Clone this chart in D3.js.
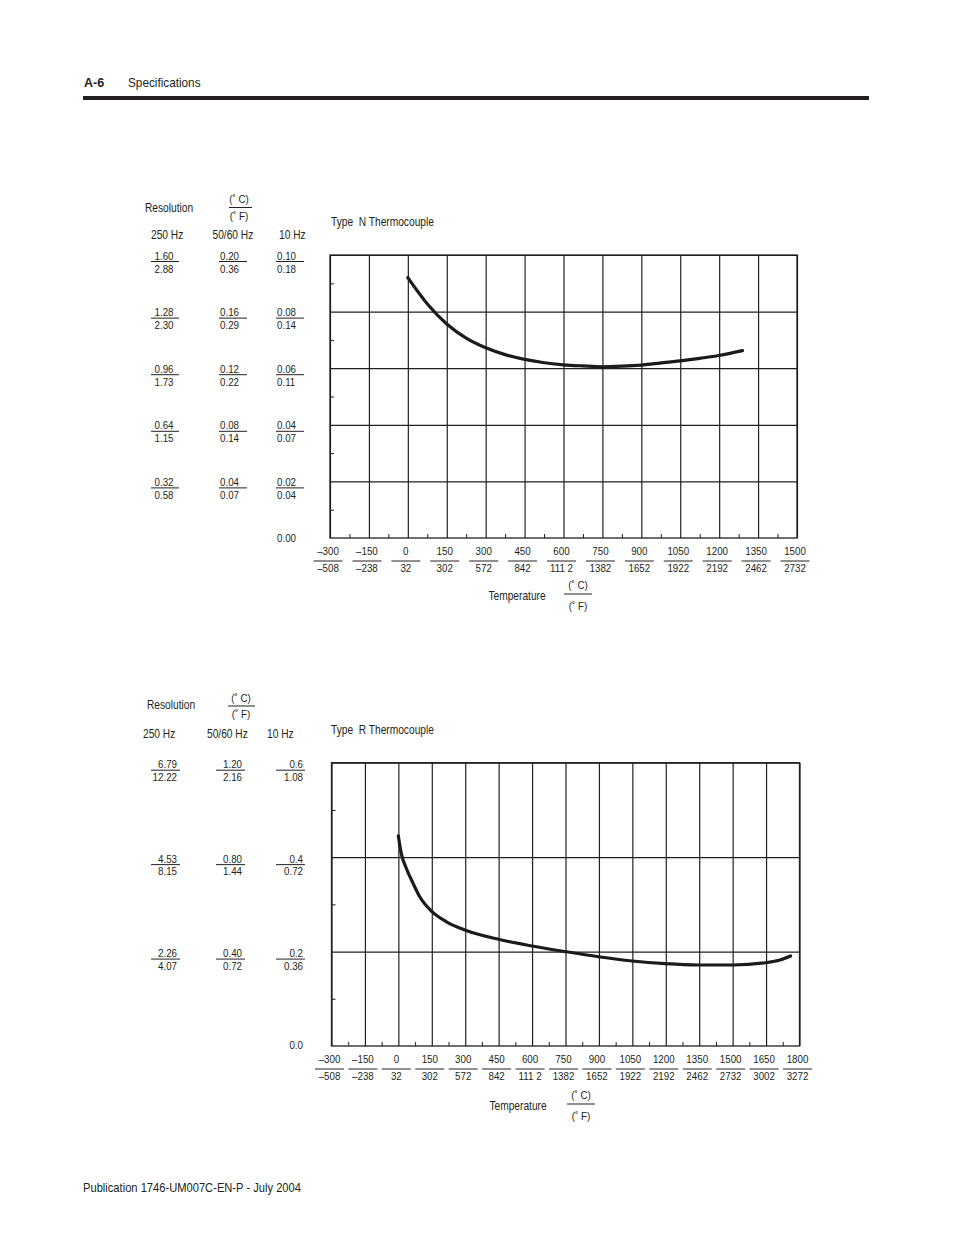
<!DOCTYPE html>
<html>
<head>
<meta charset="utf-8">
<script src="https://cdn.jsdelivr.net/npm/d3@7"></script>
<style>
  html, body { margin: 0; padding: 0; background: #fff; }
  svg { display: block; }
  text { font-family: "Liberation Sans", Arial, Helvetica, sans-serif; fill: #231f20; white-space: pre; }
</style>
</head>
<body>
<svg id="page" width="954" height="1235"></svg>
<script>
// ---------------- DATA ----------------
// Type N thermocouple: temperature (°C) and resolution at 10 Hz (°C)
const nTemp = [0, 77, 150, 225, 300, 375, 450, 520, 600, 674, 750, 825, 900, 972, 1050, 1125, 1200, 1290];
const nRes  = [0.0920, 0.0825, 0.0756, 0.0706, 0.0672, 0.0648, 0.0631, 0.0620, 0.0612, 0.0608, 0.0605, 0.0607, 0.0611, 0.0618, 0.0626, 0.0635, 0.0645, 0.0662];

// Type R thermocouple: temperature (°C) and resolution at 10 Hz (°C)
const rTemp = [0, 13, 36, 66, 96, 151, 216, 299, 449, 600, 748, 898, 1049, 1197, 1347, 1500, 1648, 1712, 1760];
const rRes  = [0.445, 0.408, 0.376, 0.3445, 0.316, 0.2845, 0.263, 0.2457, 0.226, 0.2118, 0.200, 0.189, 0.180, 0.1743, 0.1715, 0.1715, 0.1764, 0.182, 0.1906];

// Y-axis resolution labels, Type N (rows top to bottom)
const nGrid      = [0.10, 0.08, 0.06, 0.04, 0.02];
const n250C      = ["1.60", "1.28", "0.96", "0.64", "0.32"];
const n250F      = ["2.88", "2.30", "1.73", "1.15", "0.58"];
const n5060C     = ["0.20", "0.16", "0.12", "0.08", "0.04"];
const n5060F     = ["0.36", "0.29", "0.22", "0.14", "0.07"];
const n10C       = ["0.10", "0.08", "0.06", "0.04", "0.02"];
const n10F       = ["0.18", "0.14", "0.11", "0.07", "0.04"];
const nZeroLabel = "0.00";

// Y-axis resolution labels, Type R
const rGrid      = [0.6, 0.4, 0.2];
const r250C      = ["6.79", "4.53", "2.26"];
const r250F      = ["12.22", "8.15", "4.07"];
const r5060C     = ["1.20", "0.80", "0.40"];
const r5060F     = ["2.16", "1.44", "0.72"];
const r10C       = ["0.6", "0.4", "0.2"];
const r10F       = ["1.08", "0.72", "0.36"];
const rZeroLabel = "0.0";

// X-axis temperature labels
const nTicksC = [-300, -150, 0, 150, 300, 450, 600, 750, 900, 1050, 1200, 1350, 1500];
const nTicksF = ["\u2013508", "\u2013238", "32", "302", "572", "842", "111 2", "1382", "1652", "1922", "2192", "2462", "2732"];
const rTicksC = [-300, -150, 0, 150, 300, 450, 600, 750, 900, 1050, 1200, 1350, 1500, 1650, 1800];
const rTicksF = ["\u2013508", "\u2013238", "32", "302", "572", "842", "111 2", "1382", "1652", "1922", "2192", "2462", "2732", "3002", "3272"];

const headerNum   = "A-6";
const headerTitle = "Specifications";
const footerText  = "Publication 1746-UM007C-EN-P - July 2004";

// ---------------- DRAW ----------------
const svg = d3.select("#page");
const INK = "#231f20";
const SX = 0.85;          // condensed face
const fmtC = v => (v < 0 ? "\u2013" + Math.abs(v) : String(v));

function T(g, x, y, str, o) {
  o = Object.assign({ size: 12, anchor: "start", sx: SX, weight: "normal" }, o || {});
  return g.append("text")
    .attr("transform", `translate(${x},${y}) scale(${o.sx},1)`)
    .attr("font-size", o.size).attr("font-weight", o.weight)
    .attr("text-anchor", o.anchor).text(str);
}

// header
T(svg, 84, 86.5, headerNum, { size: 12.5, weight: "bold", sx: 1.0 });
T(svg, 128, 86.5, headerTitle, { size: 12, sx: 0.98 });
svg.append("rect").attr("x", 83).attr("y", 96).attr("width", 786).attr("height", 4).attr("fill", INK);
// footer
T(svg, 83, 1191.5, footerText, { size: 12, sx: 0.93 });

function fraction(g, yTop, top, bottom, o) {
  o = Object.assign({ size: 11.5, anchor: "middle", lineDy: 6, botDy: 17 }, o);
  T(g, o.textX, yTop, top, { size: o.size, anchor: o.anchor });
  g.append("line").attr("x1", o.lineX0).attr("x2", o.lineX1).attr("y1", yTop + o.lineDy).attr("y2", yTop + o.lineDy)
    .attr("stroke", INK).attr("stroke-width", 1);
  T(g, o.textX, yTop + o.botDy, bottom, { size: o.size, anchor: o.anchor });
}

function drawChart(cfg) {
  const g = svg.append("g");
  const x = d3.scaleLinear().domain(cfg.xDomain).range(cfg.xRange);
  const y = d3.scaleLinear().domain(cfg.yDomain).range(cfg.yRange);
  const [x0, x1] = cfg.xRange, [y0, y1] = cfg.yRange; // y0 bottom, y1 top
  const W = x1 - x0, H = y0 - y1;

  // vertical gridlines
  g.append("g").attr("transform", `translate(0,${y0})`)
    .call(d3.axisBottom(x).tickValues(cfg.ticksC).tickSize(-H).tickFormat(""))
    .call(s => s.select(".domain").remove())
    .call(s => s.selectAll("line").attr("stroke", INK).attr("stroke-width", 1.2));
  // horizontal gridlines
  g.append("g").attr("transform", `translate(${x0},0)`)
    .call(d3.axisLeft(y).tickValues(cfg.grid).tickSize(-W).tickFormat(""))
    .call(s => s.select(".domain").remove())
    .call(s => s.selectAll("line").attr("stroke", INK).attr("stroke-width", 1.2));
  // minor ticks (bottom, pointing up)
  const minorX = cfg.ticksC.slice(0, -1).map((t, i) => (t + cfg.ticksC[i + 1]) / 2);
  g.append("g").attr("transform", `translate(0,${y0})`)
    .call(d3.axisBottom(x).tickValues(minorX).tickSize(-4).tickFormat(""))
    .call(s => s.select(".domain").remove())
    .call(s => s.selectAll("line").attr("stroke", INK).attr("stroke-width", 1));
  // minor ticks (left, pointing right)
  const allG = [cfg.yDomain[0]].concat(cfg.grid.slice().reverse());
  const minorY = allG.slice(0, -1).map((v, i) => (v + allG[i + 1]) / 2);
  g.append("g").attr("transform", `translate(${x0},0)`)
    .call(d3.axisLeft(y).tickValues(minorY).tickSize(-4).tickFormat(""))
    .call(s => s.select(".domain").remove())
    .call(s => s.selectAll("line").attr("stroke", INK).attr("stroke-width", 1));
  // frame
  g.append("rect").attr("x", x0).attr("y", y1).attr("width", W).attr("height", H)
    .attr("fill", "none").attr("stroke", INK).attr("stroke-width", 1.3);

  // curve
  const line = d3.line().x(d => x(d[0])).y(d => y(d[1])).curve(d3.curveMonotoneX);
  g.append("path").datum(cfg.temp.map((t, i) => [t, cfg.res[i]]))
    .attr("d", line).attr("fill", "none").attr("stroke", "#1c1a1b").attr("stroke-width", 3.2)
    .attr("stroke-linecap", "round");

  // title
  T(g, cfg.titleX, cfg.titleY, cfg.title, { size: 12 });

  // header labels above the resolution columns
  const h = cfg.head;
  T(g, h.resX, h.resY, "Resolution", { size: 12 });
  fraction(g, h.unitY, "(\u02DA C)", "(\u02DA F)", { textX: h.unitX, lineX0: h.unitL0, lineX1: h.unitL1, lineDy: 4.5, botDy: 16.5 });
  T(g, h.c1, h.hzY, "250 Hz", { size: 12 });
  T(g, h.c2, h.hzY, "50/60 Hz", { size: 12 });
  T(g, h.c3, h.hzY, "10 Hz", { size: 12 });

  // y labels
  cfg.grid.forEach((v, i) => {
    const yy = y(v) + cfg.rowDy;
    cfg.cols.forEach(c => {
      fraction(g, yy, c.top[i], c.bot[i], { textX: c.tx, anchor: c.anchor, lineX0: c.l0, lineX1: c.l1, lineDy: cfg.lineDy, botDy: cfg.botDy });
    });
  });
  const zc = cfg.cols[2];
  T(g, zc.tx, y(cfg.yDomain[0]) + cfg.zeroDy, cfg.zero, { size: 11.5, anchor: zc.anchor });

  // x labels
  cfg.ticksC.forEach((t, i) => {
    const cx = x(t) - 2;
    fraction(g, y0 + 17, fmtC(t), cfg.ticksF[i], { textX: cx, lineX0: cx - 14.5, lineX1: cx + 14.5, lineDy: 6, botDy: 17 });
  });
  // axis title
  T(g, cfg.tempX, y0 + cfg.tempDy, "Temperature", { size: 12, anchor: "middle" });
  fraction(g, y0 + cfg.tempDy - 11, "(\u02DA C)", "(\u02DA F)", { textX: cfg.tUnitX, lineX0: cfg.tUnitX - 14, lineX1: cfg.tUnitX + 14, lineDy: 5, botDy: 21 });
}

drawChart({
  xDomain: [-300, 1500], xRange: [330, 797], yDomain: [0, 0.10], yRange: [538, 255],
  grid: nGrid, ticksC: nTicksC, ticksF: nTicksF, temp: nTemp, res: nRes,
  title: "Type  N Thermocouple", titleX: 331, titleY: 226,
  head: { resX: 145, resY: 211.5, unitX: 239, unitY: 203, unitL0: 229, unitL1: 252, c1: 151, c2: 212.5, c3: 279, hzY: 238.5 },
  rowDy: 4.5, lineDy: 2, botDy: 13,
  cols: [
    { top: n250C, bot: n250F, tx: 164, anchor: "middle", l0: 151, l1: 179 },
    { top: n5060C, bot: n5060F, tx: 220, anchor: "start", l0: 219, l1: 247 },
    { top: n10C, bot: n10F, tx: 277, anchor: "start", l0: 276, l1: 304 }
  ],
  zero: nZeroLabel, zeroDy: 3.5,
  tempX: 517, tempDy: 62, tUnitX: 578
});

drawChart({
  xDomain: [-300, 1800], xRange: [331.5, 799.5], yDomain: [0, 0.6], yRange: [1046, 762.7],
  grid: rGrid, ticksC: rTicksC, ticksF: rTicksF, temp: rTemp, res: rRes,
  title: "Type  R Thermocouple", titleX: 331, titleY: 733.5,
  head: { resX: 147, resY: 709, unitX: 241, unitY: 701.5, unitL0: 228, unitL1: 255, c1: 143, c2: 207, c3: 267, hzY: 737.5 },
  rowDy: 5.5, lineDy: 2, botDy: 12.5,
  cols: [
    { top: r250C, bot: r250F, tx: 177, anchor: "end", l0: 151, l1: 180 },
    { top: r5060C, bot: r5060F, tx: 242, anchor: "end", l0: 216, l1: 245 },
    { top: r10C, bot: r10F, tx: 303, anchor: "end", l0: 276, l1: 305 }
  ],
  zero: rZeroLabel, zeroDy: 2.5,
  tempX: 518, tempDy: 64, tUnitX: 581
});
</script>
</body>
</html>
